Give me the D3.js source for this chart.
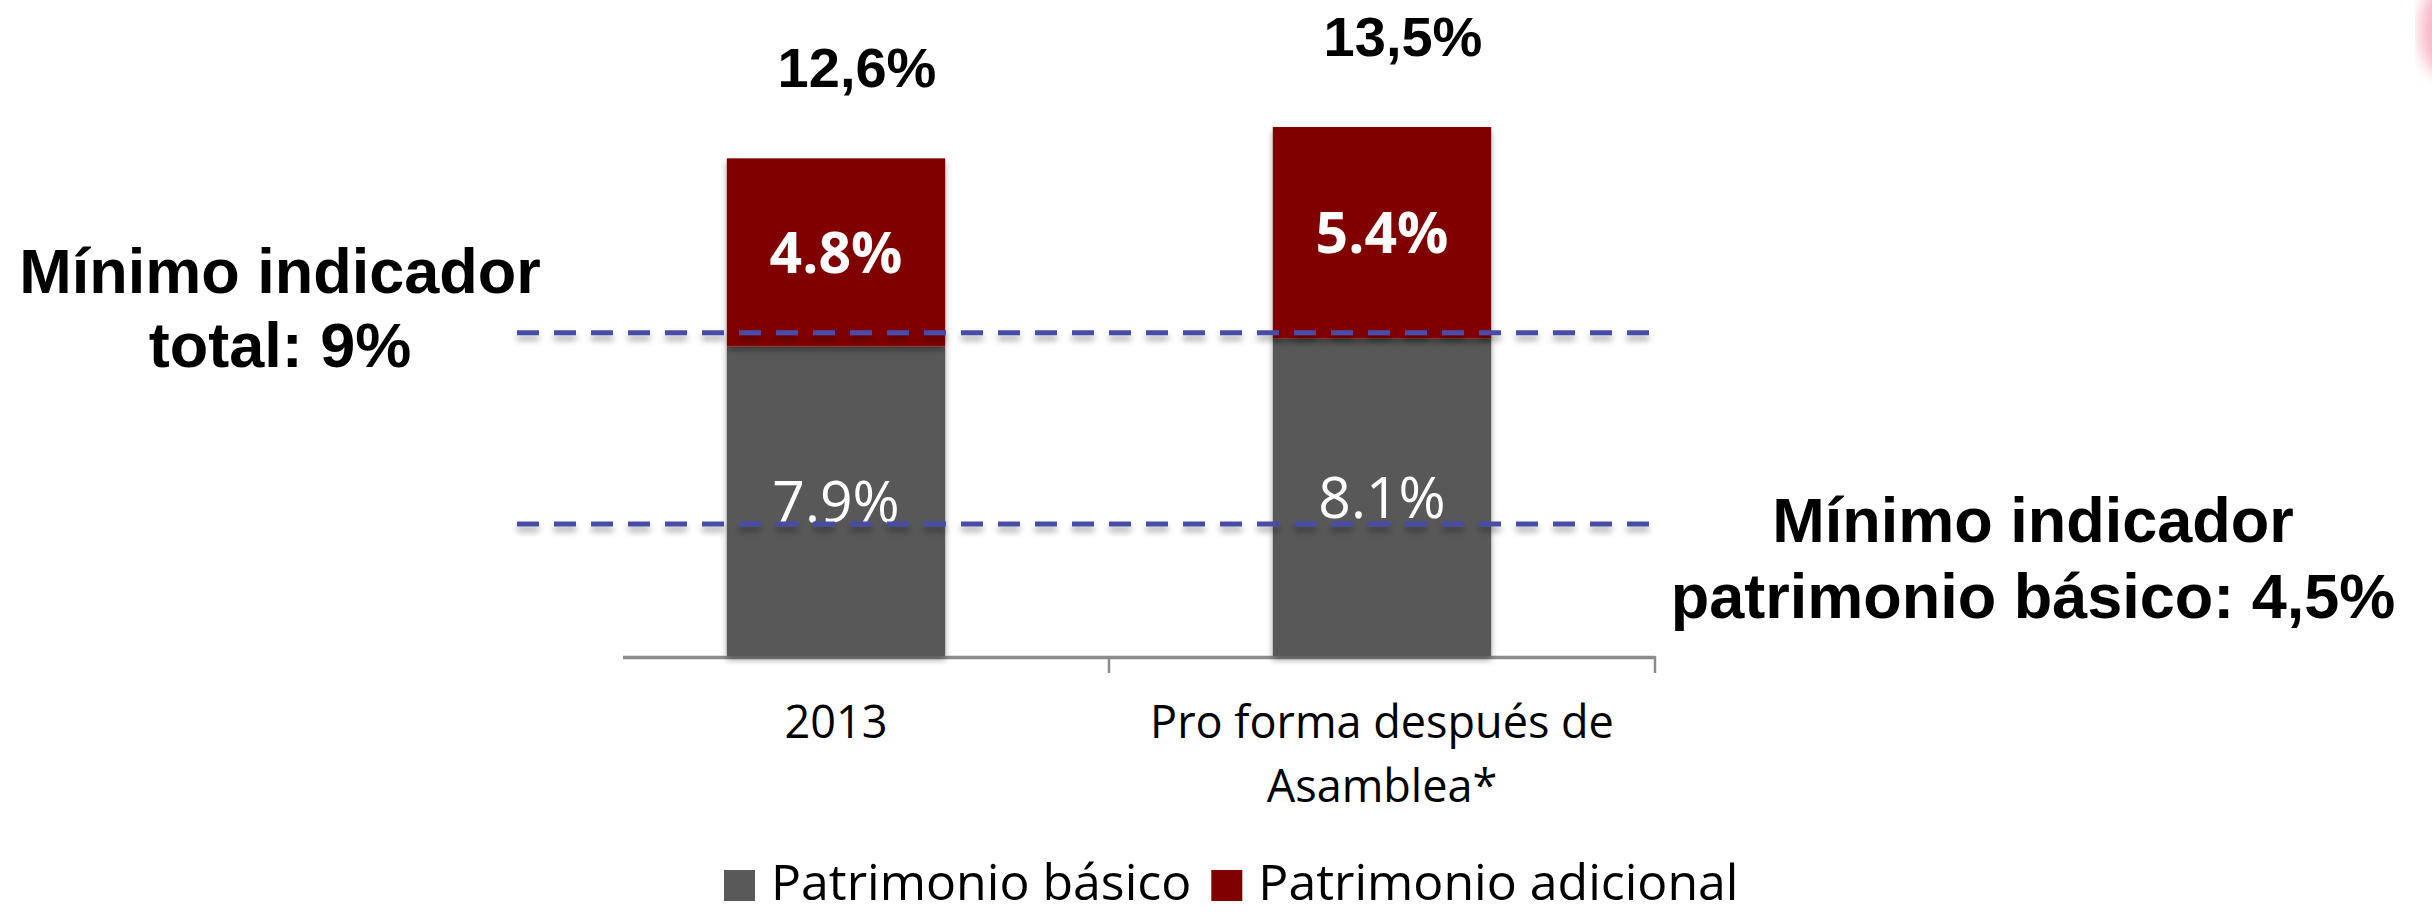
<html>
<head>
<meta charset="utf-8">
<style>
  body { margin: 0; background: #ffffff; }
  svg { display: block; }
</style>
<script src="https://d3js.org/d3.v7.min.js"></script>
</head>
<body>
<script>
// categories and values
const categories = ["2013", "Pro forma después de Asamblea*"];
const categoryLines = [["2013"], ["Pro forma después de", "Asamblea*"]];
const basico = [7.9, 8.1];
const adicional = [4.8, 5.4];
const totals = [12.6, 13.5];
const seriesNames = ["Patrimonio básico", "Patrimonio adicional"];
const seriesColors = ["#595959", "#800000"];
// dashed reference lines: where they are drawn (chart is not to scale) and their notes
const refDrawnAt = [8.25, 3.37];
const refNotes = [["Mínimo indicador", "total: 9%"], ["Mínimo indicador", "patrimonio básico: 4,5%"]];

const w = 2432, h = 915;
const rows = categories.map((c, i) => ({ cat: c, basico: basico[i], adicional: adicional[i] }));
const stack = d3.stack().keys(["basico", "adicional"])(rows);

const x = d3.scaleBand().domain(categories).range([563, 1655]);
const y = d3.scaleLinear().domain([0, 13.5]).range([656, 127]);
const barW = x.bandwidth() * 0.4;
const cx = c => x(c) + x.bandwidth() / 2;
const pct = d3.format(".1f");
const comma = d3.formatLocale({ decimal: ",", thousands: ".", grouping: [3], currency: ["", ""] }).format(".1f");

const svg = d3.select("body").append("svg").attr("width", w).attr("height", h);

const defs = svg.append("defs");
defs.append("filter").attr("id", "shadow").attr("x", "-10%").attr("y", "-10%").attr("width", "120%").attr("height", "130%")
  .append("feDropShadow").attr("dx", 0).attr("dy", 4).attr("stdDeviation", 3)
  .attr("flood-color", "#000").attr("flood-opacity", 0.35);
// lines have a flat bounding box, so their shadow filter works in user space
defs.append("filter").attr("id", "lineShadow").attr("filterUnits", "userSpaceOnUse")
  .attr("x", 0).attr("y", 0).attr("width", w).attr("height", h)
  .append("feDropShadow").attr("dx", 0).attr("dy", 5).attr("stdDeviation", 3)
  .attr("flood-color", "#000").attr("flood-opacity", 0.35);
defs.append("filter").attr("id", "blur").append("feGaussianBlur").attr("stdDeviation", 8);

// faint pink blob in the corner of the slide
svg.append("ellipse").attr("cx", w + 10).attr("cy", 30).attr("rx", 22).attr("ry", 45)
  .attr("fill", "#f7b6c2").attr("filter", "url(#blur)");

// axis
const axisG = svg.append("g");
axisG.append("line").attr("x1", 623).attr("x2", x.range()[1]).attr("y1", y(0) + 1.5).attr("y2", y(0) + 1.5)
  .attr("stroke", "#8c8c8c").attr("stroke-width", 3.5);
axisG.selectAll(".tick").data(categories).enter().append("line")
  .attr("x1", d => x(d) + x.bandwidth()).attr("x2", d => x(d) + x.bandwidth())
  .attr("y1", y(0)).attr("y2", y(0) + 17)
  .attr("stroke", "#8c8c8c").attr("stroke-width", 2.5);

// bars
svg.selectAll(".layer").data(stack).enter().append("g")
  .attr("fill", (d, i) => seriesColors[i])
  .selectAll("rect").data(d => d).enter().append("rect")
  .attr("x", d => cx(d.data.cat) - barW / 2)
  .attr("y", d => y(d[1]))
  .attr("width", barW)
  .attr("height", d => y(d[0]) - y(d[1]))
  .attr("filter", "url(#shadow)");

// segment labels
svg.selectAll(".seg").data(stack).enter().append("g")
  .selectAll("text").data((d, i) => d.map(p => ({ p, i }))).enter().append("text")
  .attr("x", d => cx(d.p.data.cat))
  .attr("y", d => (y(d.p[0]) + y(d.p[1])) / 2)
  .attr("dy", "0.36em")
  .attr("text-anchor", "middle")
  .attr("font-family", "'Open Sans', sans-serif")
  .attr("font-size", 57)
  .attr("font-weight", d => d.i === 1 ? 700 : 400)
  .attr("fill", "#ffffff")
  .text(d => pct(d.p[1] - d.p[0]) + "%");

// totals above the bars
svg.selectAll(".total").data(totals).enter().append("text")
  .attr("x", (d, i) => cx(categories[i]) + 21)
  .attr("y", (d, i) => y(stack[1][i][1]) - 71)
  .attr("text-anchor", "middle")
  .attr("font-family", "'Liberation Sans', Arial, sans-serif")
  .attr("font-weight", 700)
  .attr("font-size", 56)
  .attr("fill", "#000")
  .text(d => comma(d) + "%");

// category labels
categoryLines.forEach((lines, i) => {
  const t = svg.append("text")
    .attr("text-anchor", "middle")
    .attr("font-family", "'Open Sans', sans-serif")
    .attr("font-size", 45)
    .attr("fill", "#000");
  lines.forEach((ln, j) => t.append("tspan").attr("x", cx(categories[i])).attr("y", y(0) + 82 + j * 64).text(ln));
});

// reference lines, drawn over the labels as in the original
const [rx0, rx1] = [x.range()[0] - 46, x.range()[1] + 3];
svg.selectAll(".ref").data(refDrawnAt).enter().append("line")
  .attr("x1", rx0).attr("x2", rx1)
  .attr("y1", d => y(d)).attr("y2", d => y(d))
  .attr("stroke", "#4a4ca8").attr("stroke-width", 5)
  .attr("stroke-dasharray", "22 15")
  .attr("filter", "url(#lineShadow)");

// notes for the reference lines
const notePos = [{ x: 280, dy: [-40, 34] }, { x: 2033, dy: [18, 94] }];
refNotes.forEach((lines, i) => {
  const t = svg.append("text")
    .attr("text-anchor", "middle")
    .attr("font-family", "'Liberation Sans', Arial, sans-serif")
    .attr("font-weight", 700)
    .attr("font-size", 63)
    .attr("fill", "#000");
  lines.forEach((ln, j) => t.append("tspan").attr("x", notePos[i].x).attr("y", y(refDrawnAt[i]) + notePos[i].dy[j]).text(ln));
});

// legend
const legend = svg.append("g").attr("transform", "translate(724, 900)");
let lx = 0;
seriesNames.forEach((name, i) => {
  legend.append("rect").attr("x", lx).attr("y", -30).attr("width", 31).attr("height", 31).attr("fill", seriesColors[i]);
  const t = legend.append("text").attr("x", lx + 47).attr("y", 0)
    .attr("font-family", "'Open Sans', sans-serif").attr("font-size", 50).attr("fill", "#000").text(name);
  lx += 47 + t.node().getComputedTextLength() + 20;
});
</script>
</body>
</html>
